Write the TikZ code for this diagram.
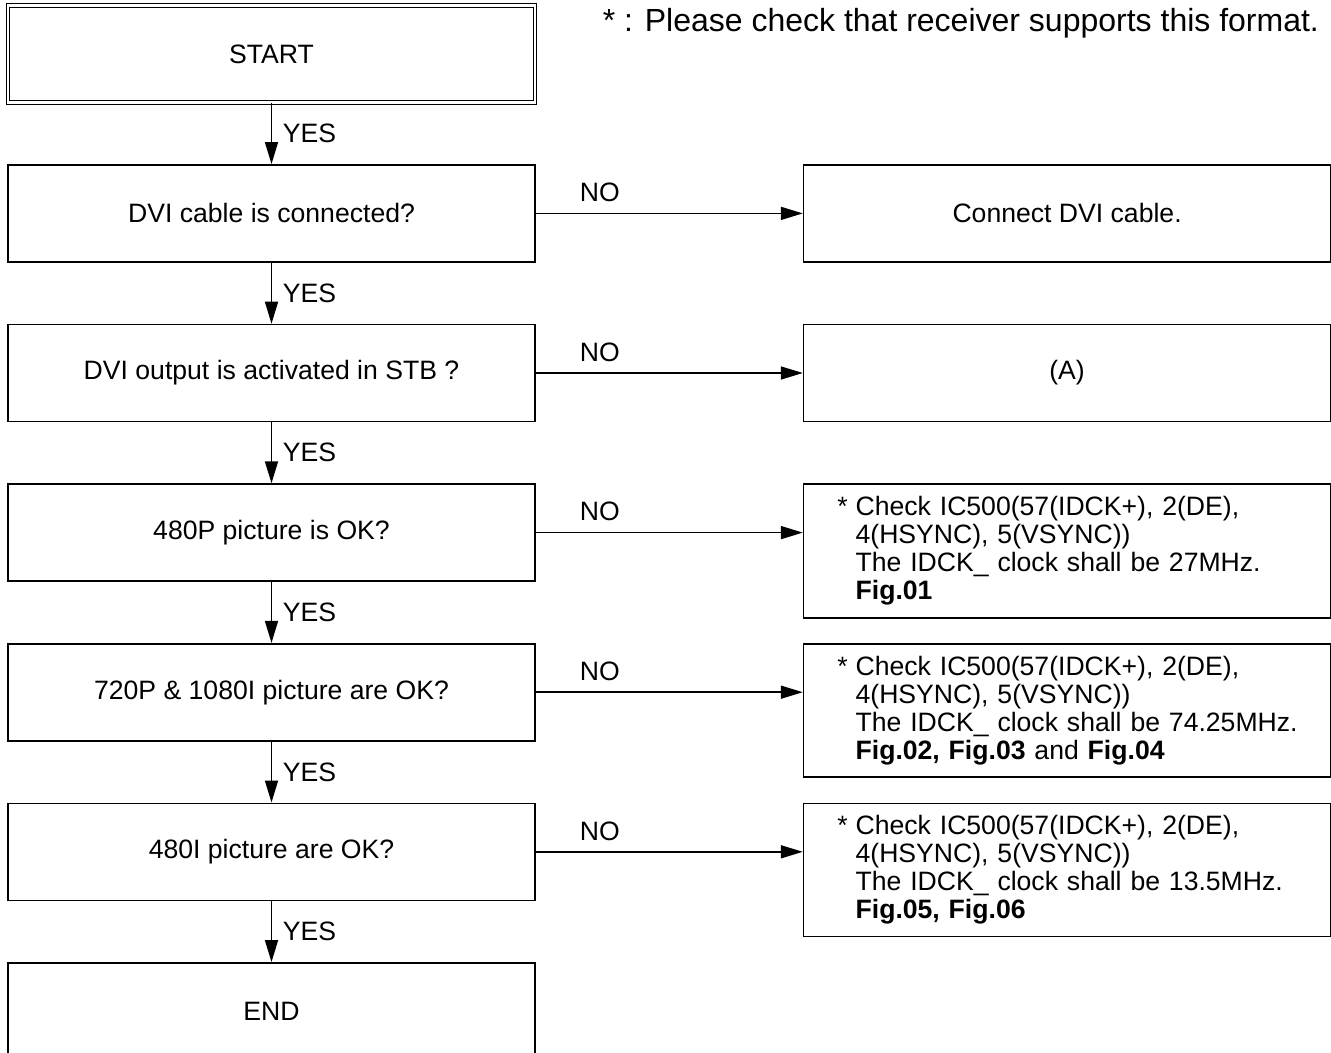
\documentclass[tikz,border=0pt]{standalone}
\usepackage{fontspec}
\setmainfont{Liberation Sans}
\usetikzlibrary{arrows.meta,positioning,calc}

\begin{document}
\begin{tikzpicture}[x=0.5pt, y=-0.5pt,
                      node distance=30.5pt and 133.5pt,
                      box/.style={draw, line width=0.8pt, inner sep=0pt,
                                  minimum width=263.5pt, minimum height=48.5pt,
                                  font=\fontsize{13.3}{14}\selectfont},
                      startbox/.style={box, double, double distance=1.1pt, line width=0.6pt},
                      fixbox/.style={box, align=left, text width=263.5pt},
                      arr/.style={-{Triangle[length=11pt, width=6.5pt]}, line width=0.8pt},
                      yes/.style={right=2pt, midway, font=\fontsize{13.3}{14}\selectfont},
                      no/.style={above=2pt, pos=0.24, font=\fontsize{13.3}{14}\selectfont}]
    \useasboundingbox (0,0) rectangle (1331,1053);

    \node[startbox] (start) at (271.5,54) {START};
    \node[box, below=of start] (cable) {DVI cable is connected?};
    \node[box, below=of cable] (output) {DVI output is activated in STB ?};
    \node[box, below=of output] (p480) {480P picture is OK?};
    \node[box, below=of p480] (p720) {720P \& 1080I picture are OK?};
    \node[box, below=of p720] (i480) {480I picture are OK?};
    \node[box, below=of i480] (finish) {END};

    \node[box, right=of cable] (connect) {Connect DVI cable.};
    \node[box, right=of output] (pointa) {(A)};
    \node[fixbox, minimum height=67pt, right=of p480.north east, anchor=north west] (fig01)
      {\leftskip=26pt\llap{*\hspace{4pt}}Check IC500(57(IDCK+), 2(DE),\\
       4(HSYNC), 5(VSYNC))\\
       The IDCK\_ clock shall be 27MHz.\\
       \textbf{Fig.01}\par};
    \node[fixbox, minimum height=66.5pt, right=of p720.north east, anchor=north west] (fig02)
      {\leftskip=26pt\llap{*\hspace{4pt}}Check IC500(57(IDCK+), 2(DE),\\
       4(HSYNC), 5(VSYNC))\\
       The IDCK\_ clock shall be 74.25MHz.\\
       \textbf{Fig.02, Fig.03} and \textbf{Fig.04}\par};
    \node[fixbox, minimum height=66.5pt, right=of i480.north east, anchor=north west] (fig05)
      {\leftskip=26pt\llap{*\hspace{4pt}}Check IC500(57(IDCK+), 2(DE),\\
       4(HSYNC), 5(VSYNC))\\
       The IDCK\_ clock shall be 13.5MHz.\\
       \textbf{Fig.05, Fig.06}\par};

    \node[anchor=base east, font=\fontsize{16}{18}\selectfont] (note) at (1326,32)
      {* : Please check that receiver supports this format.};

    % yes path
    \draw[arr] (start) -- (cable) node[yes] {YES};
    \draw[arr] (cable) -- (output) node[yes] {YES};
    \draw[arr] (output) -- (p480) node[yes] {YES};
    \draw[arr] (p480) -- (p720) node[yes] {YES};
    \draw[arr] (p720) -- (i480) node[yes] {YES};
    \draw[arr] (i480) -- (finish) node[yes] {YES};

    % no path
    \draw[arr] (cable) -- (connect) node[no] {NO};
    \draw[arr] (output) -- (pointa) node[no] {NO};
    \draw[arr] (p480) -- (p480 -| fig01.west) node[no] {NO};
    \draw[arr] (p720) -- (p720 -| fig02.west) node[no] {NO};
    \draw[arr] (i480) -- (i480 -| fig05.west) node[no] {NO};
  \end{tikzpicture}
\end{document}
